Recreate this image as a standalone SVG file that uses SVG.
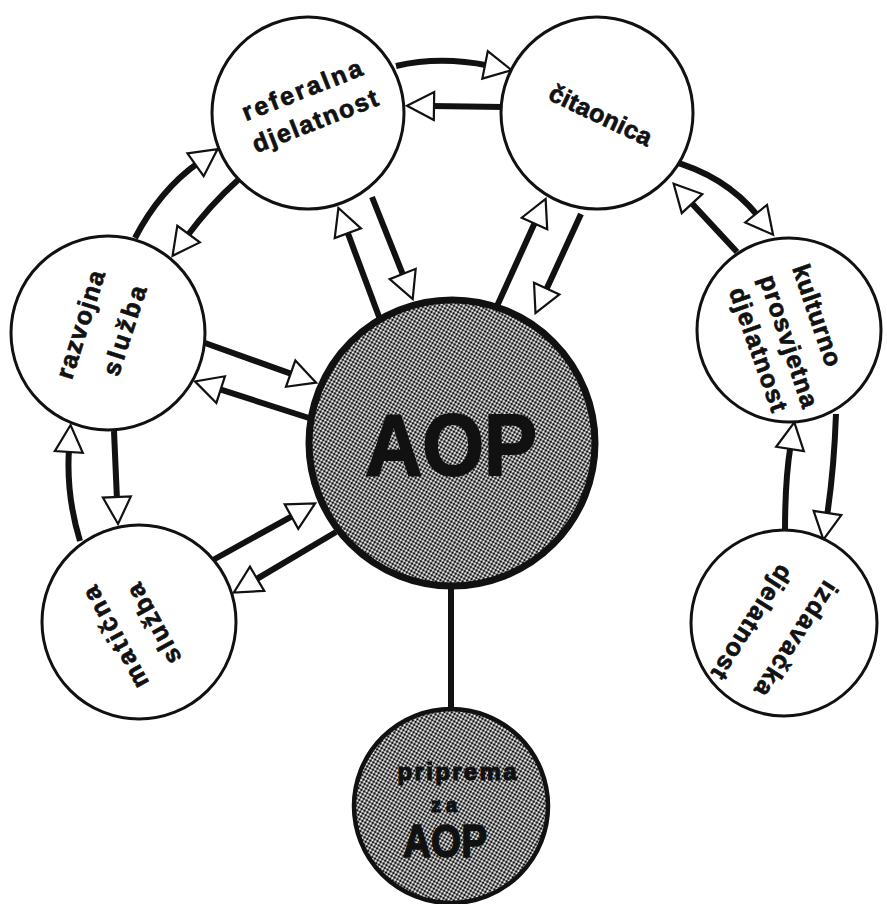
<svg xmlns="http://www.w3.org/2000/svg" width="887" height="904" viewBox="0 0 887 904">
<defs>
<style>
.node{fill:#fff;stroke:#111;stroke-width:3}
.hub{fill:url(#dots);stroke:#111;stroke-width:7}
.sub{fill:url(#dots);stroke:#111;stroke-width:4.5}
.con{fill:none;stroke:#111;stroke-width:6;stroke-linecap:butt}
.plain{fill:none;stroke:#111;stroke-width:6}
.lbl{font-family:"Liberation Sans",Arial,Helvetica,sans-serif;font-weight:bold;font-size:25px;fill:#111;stroke:#111;stroke-width:0.7;text-anchor:middle}
</style>
<pattern id="dots" width="3.3" height="3.3" patternUnits="userSpaceOnUse" patternTransform="rotate(30)">
<rect width="3.3" height="3.3" fill="#fff"/>
<circle cx="1.65" cy="1.65" r="1.4" fill="#111"/>
</pattern>
<marker id="ah" markerUnits="userSpaceOnUse" markerWidth="34" markerHeight="32" viewBox="-2 -16 34 32" refX="3" refY="0" orient="auto" overflow="visible">
<polygon points="0,-14 27,0 0,14" fill="#fff" stroke="#111" stroke-width="2.2"/>
</marker>
</defs>
<rect width="887" height="904" fill="#fff"/>
<g id="connectors">
<path class="con" marker-end="url(#ah)" d="M396,66 Q440,56 488,65.5"/>
<path class="con" marker-end="url(#ah)" d="M503,107 L431,106"/>
<path class="con" marker-end="url(#ah)" d="M372,197 L403.8,276.8"/>
<path class="con" marker-end="url(#ah)" d="M381,322 L346.8,230.4"/>
<path class="con" marker-end="url(#ah)" d="M497,306 L535.7,220.8"/>
<path class="con" marker-end="url(#ah)" d="M581,214 L545.5,291.3"/>
<path class="con" marker-end="url(#ah)" d="M668,160 Q725,175 758,216"/>
<path class="con" marker-end="url(#ah)" d="M737,252 L690,201.4"/>
<path class="con" marker-end="url(#ah)" d="M836,414 Q834,470 827,516"/>
<path class="con" marker-end="url(#ah)" d="M785,531 Q785,480 790.5,446"/>
<path class="con" marker-end="url(#ah)" d="M135,238 Q160,190 198,163"/>
<path class="con" marker-end="url(#ah)" d="M238,180 Q210,205 186.8,236.5"/>
<path class="con" marker-end="url(#ah)" d="M205,343 L293.5,374.6"/>
<path class="con" marker-end="url(#ah)" d="M309,418 L217.8,388.7"/>
<path class="con" marker-end="url(#ah)" d="M114,431 L117,500"/>
<path class="con" marker-end="url(#ah)" d="M80,541 Q66,495 69,449"/>
<path class="con" marker-end="url(#ah)" d="M213,560 L294.1,515.1"/>
<path class="con" marker-end="url(#ah)" d="M336,532 L254.5,580.3"/>
<path class="plain" d="M451,586 L451,708"/>
</g>
<g id="aop">
<circle class="hub" cx="452" cy="443" r="143"/>
<text class="lbl" x="451" y="475" style="font-size:88px;stroke-width:2" textLength="172" lengthAdjust="spacingAndGlyphs">AOP</text>
</g>
<g id="priprema">
<circle class="sub" cx="451" cy="806" r="97"/>
<text class="lbl" x="457" y="780" style="font-size:24px;stroke-width:1.2" textLength="119" lengthAdjust="spacing">priprema</text>
<text class="lbl" x="444" y="812" style="font-size:20px;stroke-width:1.2" textLength="26" lengthAdjust="spacing">za</text>
<text class="lbl" x="445" y="857" style="font-size:47px;stroke-width:1.5" textLength="84" lengthAdjust="spacingAndGlyphs">AOP</text>
</g>
<g id="referalna">
<circle class="node" cx="308" cy="113" r="96"/>
<text class="lbl" transform="translate(302.5,91.5) rotate(-21.5)" y="7" textLength="127" lengthAdjust="spacing">referalna</text>
<text class="lbl" transform="translate(315.5,122.5) rotate(-21.4)" y="7" textLength="133" lengthAdjust="spacing">djelatnost</text>
</g>
<g id="citaonica">
<circle class="node" cx="597" cy="113" r="96"/>
<text class="lbl" transform="translate(600,116.5) rotate(25.5)" y="7" textLength="111" lengthAdjust="spacing">čitaonica</text>
</g>
<g id="razvojna">
<circle class="node" cx="108" cy="333" r="97"/>
<text class="lbl" transform="translate(82,325) rotate(-72.5)" y="7" textLength="112" lengthAdjust="spacing">razvojna</text>
<text class="lbl" transform="translate(126,331) rotate(-72)" y="7" textLength="93" lengthAdjust="spacing">služba</text>
</g>
<g id="maticna">
<circle class="node" cx="139" cy="622" r="97"/>
<text class="lbl" transform="translate(116.7,636.7) rotate(-118.4)" y="7" textLength="112" lengthAdjust="spacing">matična</text>
<text class="lbl" transform="translate(155,623.3) rotate(-118.8)" y="7" textLength="88" lengthAdjust="spacing">služba</text>
</g>
<g id="kulturno">
<circle class="node" cx="789" cy="330" r="92"/>
<text class="lbl" transform="translate(815.8,315.8) rotate(71)" y="7" textLength="106" lengthAdjust="spacing">kulturno</text>
<text class="lbl" transform="translate(787.5,341.7) rotate(71.5)" y="7" textLength="138" lengthAdjust="spacing">prosvjetna</text>
<text class="lbl" transform="translate(757,350) rotate(70.5)" y="7" textLength="130" lengthAdjust="spacing">djelatnost</text>
</g>
<g id="izdavacka">
<circle class="node" cx="784" cy="623" r="93"/>
<text class="lbl" transform="translate(795,638.3) rotate(122.8)" y="7" textLength="132" lengthAdjust="spacing">izdavačka</text>
<text class="lbl" transform="translate(750.8,621.7) rotate(122.2)" y="7" textLength="130" lengthAdjust="spacing">djelatnost</text>
</g>
</svg>
